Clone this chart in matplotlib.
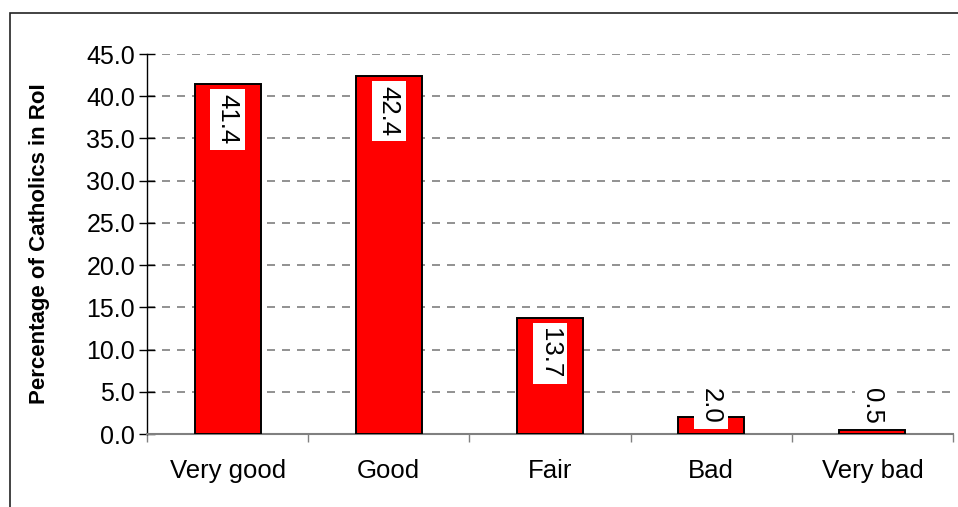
import matplotlib
matplotlib.use("Agg")
import matplotlib.pyplot as plt
from matplotlib.patches import Rectangle
import numpy as np

# ratings and percentages
categories = ["Very good", "Good", "Fair", "Bad", "Very bad"]
percentages = [41.4, 42.4, 13.7, 2.0, 0.5]
y_ticks = [0, 5, 10, 15, 20, 25, 30, 35, 40, 45]

plt.rcParams['font.family'] = ['Liberation Sans', 'DejaVu Sans']

W, H = 958, 507
fig = plt.figure(figsize=(W / 100, H / 100), dpi=100)
ax = fig.add_axes([147 / W, 1 - 434 / H, (953 - 147) / W, (434 - 54) / H])

# outer chart border (right and bottom run off the picture)
fig.patches.append(Rectangle((10 / W, -0.1), 1.2, 1.1 - 13 / H, transform=fig.transFigure,
                             fill=False, edgecolor='#222222', linewidth=1.2))

x = np.arange(len(categories))
bars = ax.bar(x, percentages, width=0.41, color='#ff0000', edgecolor='black',
              linewidth=1.4, zorder=3)

ax.set_xlim(-0.5, len(categories) - 0.5)
ax.set_ylim(0, 45)
ax.set_yticks(y_ticks)
ax.set_yticklabels([f"{v:.1f}" for v in y_ticks], fontsize=18)
ax.set_xticks(x)
ax.set_xticklabels(categories, fontsize=18.5)
ax.set_xticks(np.arange(len(categories) + 1) - 0.5, minor=True)

ax.tick_params(axis='x', which='major', length=0, pad=18)
ax.tick_params(axis='x', which='minor', length=6, width=1, color='#808080', direction='out')
ax.tick_params(axis='y', which='major', length=12, width=1, direction='inout', pad=2.6)

for s in ['top', 'right']:
    ax.spines[s].set_visible(False)
ax.spines['left'].set_color('black')
ax.spines['left'].set_linewidth(1)
ax.spines['bottom'].set_color('#808080')
ax.spines['bottom'].set_linewidth(1.5)

# dashed grid lines
for v in y_ticks[1:]:
    ax.axhline(v, color='#7f7f7f', linestyle=(0, (4.8, 4.2)), linewidth=1.2, zorder=1)

ax.set_ylabel("Percentage of Catholics in RoI", fontsize=16, fontweight='bold')
ax.yaxis.set_label_coords(-(147 - 50) / (953 - 147), 0.5, transform=ax.transAxes)

# value labels, inside end, pushed up from the axis when the bar is short
px_per_unit = (434 - 54) / 45
for i, v in enumerate(percentages):
    if v * px_per_unit > 52:
        ax.annotate(f"{v:.1f}", xy=(i, v), xytext=(0, -10), textcoords='offset pixels',
                    ha='center', va='top', rotation=-90, fontsize=18.5, zorder=4,
                    bbox=dict(boxstyle='square,pad=0.2', fc='white', ec='none'))
    else:
        ax.annotate(f"{v:.1f}", xy=(i, 0), xytext=(0, 10), textcoords='offset pixels',
                    ha='center', va='bottom', rotation=-90, fontsize=18.5, zorder=4,
                    bbox=dict(boxstyle='square,pad=0.2', fc='white', ec='none'))

fig.savefig("out.png", dpi=100)
